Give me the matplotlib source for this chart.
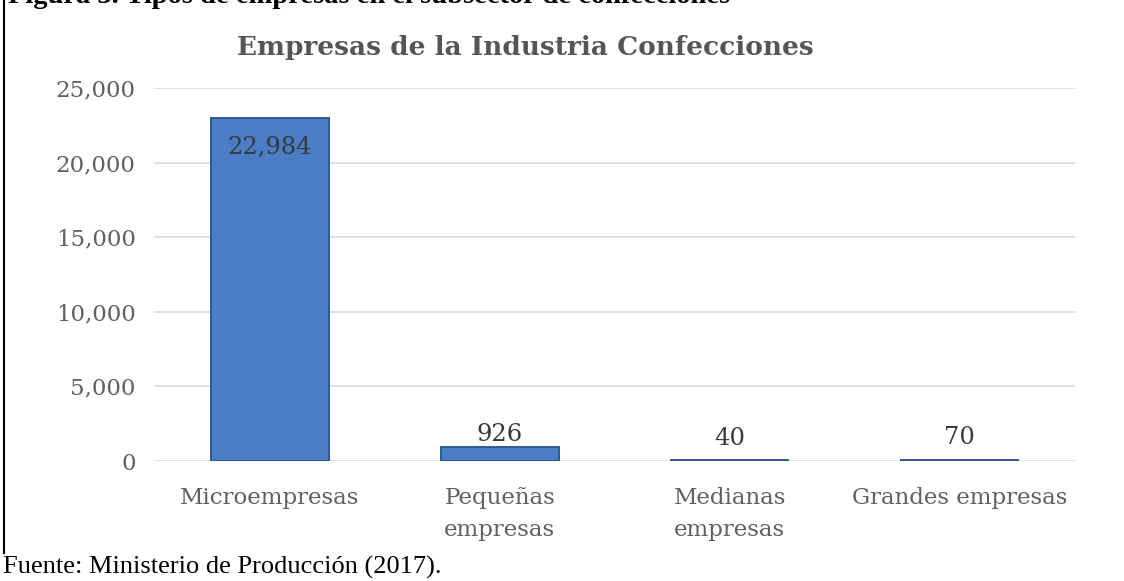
import matplotlib
matplotlib.use("Agg")
import matplotlib.pyplot as plt
from matplotlib.lines import Line2D
from matplotlib.ticker import FuncFormatter

categories = ["Microempresas", "Pequeñas\nempresas", "Medianas\nempresas", "Grandes empresas"]
values = [22984, 926, 40, 70]
labels = ["22,984", "926", "40", "70"]
yticks = [0, 5000, 10000, 15000, 20000, 25000]

fig = plt.figure(figsize=(11.24, 5.81), dpi=100)
ax = fig.add_axes([0.138, 0.2065, 0.818, 0.642])

x = list(range(len(categories)))
bars = ax.bar(x, values, width=0.51, color="#4a7fc8", edgecolor="#2f5a94", linewidth=1.4, zorder=3)

ax.set_xlim(-0.5, len(categories) - 0.5)
ax.set_ylim(0, 25000)
ax.set_yticks(yticks)
ax.yaxis.set_major_formatter(FuncFormatter(lambda v, p: f"{int(v):,}"))
ax.set_xticks(x)
ax.set_xticklabels(categories, linespacing=1.55)
ax.grid(axis="y", color="#d9d9d9", linewidth=1.2, zorder=0)
for s in ax.spines.values():
    s.set_visible(False)
ax.tick_params(axis="both", length=0, colors="#606060", labelsize=16.5)
ax.tick_params(axis="y", pad=14)
ax.tick_params(axis="x", pad=19)
for t in ax.get_xticklabels() + ax.get_yticklabels():
    t.set_fontfamily("DejaVu Serif")
    t.set_color("#606060")

label_offsets = [-21, 9, 16, 16]
for i, (v, lab) in enumerate(zip(values, labels)):
    ax.annotate(lab, (i, v), xytext=(0, label_offsets[i]), textcoords="offset points",
                ha="center", va="center", fontsize=17.5,
                color="#3a3a3a", family="DejaVu Serif", zorder=4)

fig.text(0.467, 0.918, "Empresas de la Industria Confecciones", ha="center", va="center",
         fontsize=19, fontweight="bold", color="#555555", family="DejaVu Serif")

fig.text(0.007, 0.9945, "Figura 3. Tipos de empresas en el subsector de confecciones",
         ha="left", va="baseline", fontsize=20.5, fontweight="bold", color="black",
         family="Liberation Serif")

fig.text(0.003, 0.024, "Fuente: Ministerio de Producción (2017).", ha="left", va="center",
         fontsize=19, color="black", family="Liberation Serif")

fig.add_artist(Line2D([0.0035, 0.0035], [1.0, 0.048], transform=fig.transFigure,
                      color="black", linewidth=1.5))

fig.savefig("out.png", dpi=100)
